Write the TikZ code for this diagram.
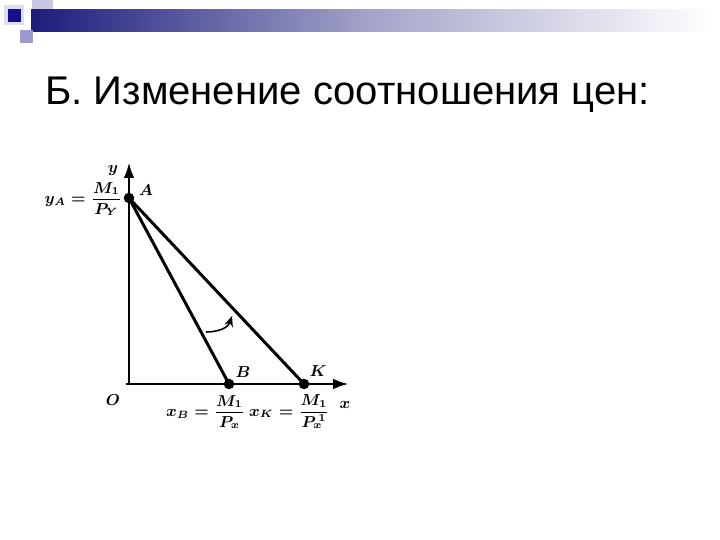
\documentclass[tikz,border=0pt]{standalone}
\usepackage{fontspec}
\usetikzlibrary{arrows.meta, positioning}
\newfontfamily\titlefont{Liberation Sans}
\definecolor{BarNavy}{HTML}{1C1C7C}
\definecolor{SqDark}{HTML}{12128E}
\definecolor{SqLight}{HTML}{C8C8E4}
\definecolor{SqMid}{HTML}{9A9ACE}

\begin{document}
\begin{tikzpicture}[x=0.02cm, y=0.02cm,
    axis/.style={line width=1.7pt, -{Latex[length=9pt, width=6pt]}},
    budget/.style={line width=1.7pt},
    pt/.style={circle, fill=black, inner sep=0pt, minimum size=6pt},
    lbl/.style={font=\boldmath\fontsize{9.2}{11}\selectfont, inner sep=1pt}]
    \useasboundingbox (0,0) rectangle (720,540);
    % slide decoration
    \fill[SqLight] (32,518) rectangle (53,540);
    \shade[left color=BarNavy, right color=white, middle color=BarNavy!40] (31,508) rectangle (712,530);
    \fill[SqLight!60] (4,515) rectangle (24,535);
    \fill[SqDark] (8,518) rectangle (21,531);
    \fill[SqMid] (20,497) rectangle (33,510);
    % title
    \node[anchor=base west, font=\titlefont\fontsize{22.8}{27}\selectfont, inner sep=0pt] (title) at (45,435) {Б. Изменение соотношения цен:};
    % axes
    \coordinate (O) at (129,156);
    \coordinate (ytop) at (129,378);
    \coordinate (xend) at (349,156);
    \coordinate (A) at (129,342);
    \coordinate (B) at (229,156);
    \coordinate (K) at (304,156);
    \draw[axis] (126,156) -- (xend);
    \draw[axis] (O) -- (ytop);
    % budget lines
    \draw[budget] (A) -- (B);
    \draw[budget] (A) -- (K);
    \node[pt] (ptA) at (A) {};
    \node[pt] (ptB) at (B) {};
    \node[pt] (ptK) at (K) {};
    % rotation of the line
    \coordinate (r1) at (206,208);
    \coordinate (r2) at (232,224);
    \draw[line width=0.9pt, -{Stealth[length=6pt, width=5pt]}] (r1) .. controls (218,208) and (228,212) .. (r2);
    % labels
    \node[lbl] (ylab) at (113,369) {$y$};
    \node[lbl] (xlab) at (345,135) {$x$};
    \node[lbl] (Olab) at (113,140) {$O$};
    \node[lbl] (Alab) at (146,350) {$A$};
    \node[lbl] (Blab) at (243,168) {$B$};
    \node[lbl] (Klab) at (318,169) {$K$};
    \node[lbl, anchor=east] (yA) at (124,341) {$y_A=\displaystyle\frac{M_1}{P_Y}$};
    \node[lbl, anchor=west] (xB) at (164,128) {$x_B=\displaystyle\frac{M_1}{P_x}$};
    \node[lbl, right=0pt of xB] (xK) {$x_K=\displaystyle\frac{M_1}{P^{\,1}_x}$};
\end{tikzpicture}
\end{document}
